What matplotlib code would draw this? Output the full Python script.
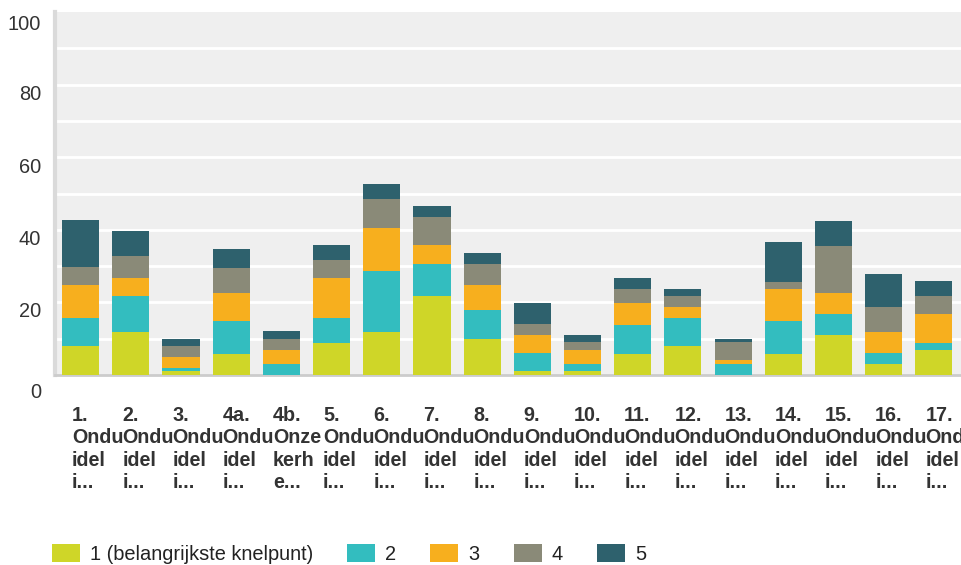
import matplotlib
matplotlib.use("Agg")
import matplotlib.pyplot as plt
import matplotlib.transforms as mtransforms
from matplotlib.patches import Patch
import numpy as np

plt.rcParams['font.family'] = ['Liberation Sans', 'DejaVu Sans']

categories = [
    "1.\nOndu\nidel\ni...", "2.\nOndu\nidel\ni...", "3.\nOndu\nidel\ni...",
    "4a.\nOndu\nidel\ni...", "4b.\nOnze\nkerh\ne...", "5.\nOndu\nidel\ni...",
    "6.\nOndu\nidel\ni...", "7.\nOndu\nidel\ni...", "8.\nOndu\nidel\ni...",
    "9.\nOndu\nidel\ni...", "10.\nOndu\nidel\ni...", "11.\nOndu\nidel\ni...",
    "12.\nOndu\nidel\ni...", "13.\nOndu\nidel\ni...", "14.\nOndu\nidel\ni...",
    "15.\nOndu\nidel\ni...", "16.\nOndu\nidel\ni...", "17.\nOndu\nidel\ni...",
]

series_names = ["1 (belangrijkste knelpunt)", "2", "3", "4", "5"]

rank1 = [7.9, 11.9, 1.0, 5.9, 0.0, 8.9, 11.9, 21.8, 9.9, 1.0, 1.0, 5.9, 7.9, 0.0, 5.9, 10.9, 3.0, 6.9]
rank2 = [7.9, 9.9, 1.0, 8.9, 3.0, 6.9, 16.8, 8.9, 7.9, 5.0, 2.0, 7.9, 7.9, 3.0, 8.9, 5.9, 3.0, 2.0]
rank3 = [8.9, 5.0, 3.0, 7.9, 4.0, 10.9, 11.9, 5.0, 6.9, 5.0, 4.0, 5.9, 3.0, 1.0, 8.9, 5.9, 5.9, 7.9]
rank4 = [5.0, 5.9, 3.0, 6.9, 3.0, 5.0, 7.9, 7.9, 5.9, 3.0, 2.0, 4.0, 3.0, 5.0, 2.0, 12.9, 6.9, 5.0]
rank5 = [12.9, 6.9, 2.0, 5.0, 2.0, 4.0, 4.0, 3.0, 3.0, 5.9, 2.0, 3.0, 2.0, 1.0, 10.9, 6.9, 8.9, 4.0]

y_ticks = [0, 20, 40, 60, 80, 100]

colors = ["#CFD628", "#33BDBF", "#F7AF1E", "#8A8A78", "#2E616D"]

W, H = 962, 565
fig = plt.figure(figsize=(W / 100, H / 100), dpi=100)
ax = fig.add_axes([55 / W, 1 - 375 / H, 1 - 55 / W, 363 / H])
ax.set_facecolor("#EFEFEF")

x = np.arange(len(categories))
bottom = np.zeros(len(categories))
for vals, col, name in zip([rank1, rank2, rank3, rank4, rank5], colors, series_names):
    ax.bar(x, vals, width=0.74, bottom=bottom, color=col, label=name, zorder=3)
    bottom += np.array(vals)

ax.set_ylim(0, 100)
ax.set_xlim(-0.51, 17.56)

# white horizontal grid every 10
for g in range(10, 100, 10):
    ax.axhline(g, color="white", lw=2, zorder=1)

for side in ["top", "right"]:
    ax.spines[side].set_visible(False)
ax.spines["left"].set_color("#DADADA")
ax.spines["left"].set_linewidth(3)
ax.spines["bottom"].set_color("#CCCCCC")
ax.spines["bottom"].set_linewidth(2)

ax.tick_params(axis="both", length=0)
ax.set_yticks(y_ticks)
ax.set_yticklabels([str(v) for v in y_ticks], fontsize=14.4, color="#333333")
ax.tick_params(axis="y", pad=10)
y_shift = {0: 15, 20: 7, 40: 7.5, 60: 8, 80: 8, 100: 10}
for lab, v in zip(ax.get_yticklabels(), y_ticks):
    off = mtransforms.ScaledTranslation(0, -y_shift[v] / 100, fig.dpi_scale_trans)
    lab.set_transform(lab.get_transform() + off)

ax.set_xticks(x)
ax.set_xticklabels(categories, fontsize=14.2, fontweight="bold", color="#333333",
                   ha="left", va="top", linespacing=1.24)
ax.tick_params(axis="x", pad=22)
for lab in ax.get_xticklabels():
    off = mtransforms.ScaledTranslation(-8.5 / 100, 0, fig.dpi_scale_trans)
    lab.set_transform(lab.get_transform() + off)

handles = [Patch(facecolor=c, edgecolor="none") for c in colors]
fig.legend(handles, series_names, loc="center left",
           bbox_to_anchor=(52 / W, 1 - 554 / H), ncol=5, frameon=False,
           fontsize=14.4, handlelength=1.4, handleheight=1.0,
           handletextpad=0.5, columnspacing=1.7, borderpad=0, borderaxespad=0,
           labelcolor="#222222")

fig.savefig("out.png", dpi=100)
